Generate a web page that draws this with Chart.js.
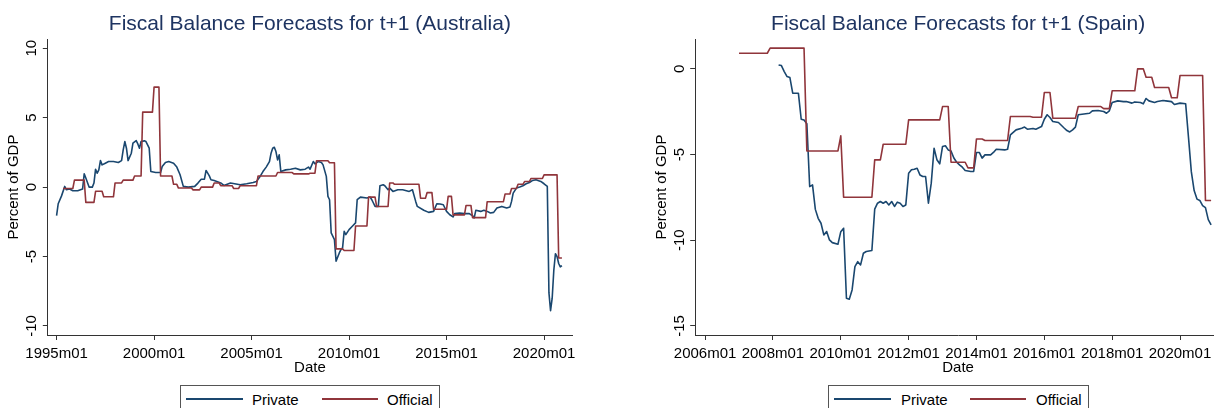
<!DOCTYPE html>
<html>
<head>
<meta charset="utf-8">
<script src="https://cdn.jsdelivr.net/npm/chart.js@4.4.1/dist/chart.umd.min.js"></script>
<style>
html, body { margin:0; padding:0; background:#fff; width:1214px; height:408px; overflow:hidden; position:relative; font-family:"Liberation Sans", Arial, sans-serif; }
canvas { position:absolute; top:0; }
#c1 { left:0; }
#c2 { left:600px; }
.legend { position:absolute; top:385px; height:30px; border:1px solid #555; box-sizing:border-box; background:#fff; }
.legend .ln { position:absolute; top:12px; height:0; border-top:2px solid; }
.legend .tx { position:absolute; top:5px; font-size:15px; line-height:18px; color:#000; white-space:nowrap; }
</style>
</head>
<body>
<canvas id="c1" width="600" height="408"></canvas>
<canvas id="c2" width="640" height="408"></canvas>

<div class="legend" style="left:180px;width:260px">
  <div class="ln" style="left:5px;width:57px;border-color:#1a476f"></div><div class="tx" style="left:71px">Private</div>
  <div class="ln" style="left:141px;width:56px;border-color:#90353b"></div><div class="tx" style="left:206px">Official</div>
</div>
<div class="legend" style="left:828px;width:261px">
  <div class="ln" style="left:5px;width:57px;border-color:#1a476f"></div><div class="tx" style="left:72px">Private</div>
  <div class="ln" style="left:141px;width:56px;border-color:#90353b"></div><div class="tx" style="left:207px">Official</div>
</div>

<script>
// ---- data ----
var ausXTicks = ['1995m01','2000m01','2005m01','2010m01','2015m01','2020m01'];
var espXTicks = ['2006m01','2008m01','2010m01','2012m01','2014m01','2016m01','2018m01','2020m01'];
var ausYTicks = [-10, -5, 0, 5, 10];
var espYTicks = [-15, -10, -5, 0];

// Australia - private forecasts
var ausPrivDates = ['1995m01','1995m02','1995m04','1995m06','1995m07','1995m09','1995m11','1996m02','1996m05','1996m06',
  '1996m07','1996m09','1996m11','1996m12','1997m01','1997m02','1997m03','1997m04','1997m05','1997m07',
  '1997m09','1997m12','1998m03','1998m05','1998m06','1998m07','1998m08','1998m09','1998m11','1998m12',
  '1999m02','1999m03','1999m04','1999m05','1999m07','1999m08','1999m10','1999m11','2000m02','2000m05',
  '2000m06','2000m08','2000m10','2001m01','2001m03','2001m05','2001m07','2001m10','2002m02','2002m04',
  '2002m06','2002m08','2002m09','2002m11','2002m12','2003m02','2003m06','2003m08','2003m12','2004m06',
  '2004m10','2005m02','2005m04','2005m06','2005m08','2005m10','2005m12','2006m01','2006m02','2006m03',
  '2006m04','2006m05','2006m06','2006m07','2006m10','2007m01','2007m04','2007m07','2007m10','2007m12',
  '2008m01','2008m03','2008m04','2008m06','2008m08','2008m09','2008m11','2008m12','2009m01','2009m02',
  '2009m04','2009m05','2009m07','2009m08','2009m09','2009m10','2009m11','2010m01','2010m03','2010m05',
  '2010m06','2010m08','2010m12','2011m02','2011m03','2011m05','2011m07','2011m08','2011m10','2011m11',
  '2012m01','2012m02','2012m04','2012m07','2012m10','2013m02','2013m04','2013m06','2013m07','2013m11',
  '2014m02','2014m05','2014m07','2014m09','2014m11','2015m01','2015m03','2015m05','2015m06','2015m09',
  '2015m12','2016m03','2016m05','2016m06','2016m07','2016m10','2016m12','2017m02','2017m04','2017m06',
  '2017m08','2017m11','2018m02','2018m04','2018m05','2018m06','2018m08','2018m10','2018m12','2019m02',
  '2019m04','2019m06','2019m08','2019m11','2020m01','2020m03','2020m04','2020m05','2020m06','2020m07',
  '2020m08','2020m09','2020m10','2020m11','2020m12'];
var ausPrivVals = [-2.06,-1.2,-0.65,0.05,-0.19,-0.14,-0.26,-0.26,-0.14,0.96,
  0.65,0,0,0.29,1.29,1.0,1.24,1.91,1.6,1.72,
  1.84,1.84,1.77,1.91,2.68,3.28,2.8,1.91,2.44,3.16,
  3.35,3.11,2.8,3.28,3.33,3.28,2.8,1.12,1.05,1.05,
  1.48,1.77,1.84,1.72,1.44,0.89,0.05,0,0.05,0.29,
  0.57,0.57,1.2,0.81,0.53,0.48,0.3,0.12,0.29,0.17,
  0.24,0.33,0.41,0.72,1.12,1.44,1.84,2.44,2.8,2.87,
  2.56,1.96,2.32,1.12,1.24,1.29,1.36,1.24,1.29,1.44,
  1.29,1.84,1.67,1.84,1.77,1.6,0.77,-0.67,-0.91,-3.3,
  -3.78,-5.33,-4.74,-4.5,-4.38,-3.18,-3.42,-3.06,-2.82,-2.58,
  -0.91,-0.72,-0.79,-0.72,-0.91,-1.39,-1.39,0.1,0.17,0.1,
  -0.19,-0.07,-0.31,-0.19,-0.19,-0.31,-0.19,-1.03,-1.39,-1.67,
  -1.82,-1.75,-1.2,-1.22,-1.27,-1.75,-1.99,-2.15,-1.91,-1.87,
  -1.91,-1.91,-2.06,-2.22,-1.67,-1.75,-1.67,-1.75,-1.87,-1.82,
  -1.51,-1.39,-1.51,-1.44,-1.03,-0.43,-0.07,0,0.1,0.24,
  0.33,0.48,0.53,0.41,0.24,0.05,-7.6,-8.9,-8.0,-6.0,
  -4.8,-5.0,-5.5,-5.74,-5.65];

// Australia - official forecasts
var ausOffDates = ['1995m05','1995m11','1995m12','1996m06','1996m07','1996m12','1997m01','1997m05','1997m06','1997m12',
  '1998m01','1998m05','1998m06','1998m12','1999m01','1999m05','1999m06','1999m12','2000m01','2000m04',
  '2000m05','2000m12','2001m01','2001m03','2001m04','2001m12','2002m01','2002m05','2002m06','2003m01',
  '2003m02','2003m05','2003m06','2004m01','2004m02','2004m05','2004m06','2005m04','2005m05','2006m04',
  '2006m05','2007m02','2007m03','2007m12','2008m01','2008m04','2008m05','2008m12','2009m01','2009m04',
  '2009m05','2009m09','2009m10','2010m04','2010m05','2010m12','2011m01','2011m05','2011m06','2012m01',
  '2012m02','2012m04','2012m05','2013m08','2013m09','2013m12','2014m01','2014m04','2014m05','2015m01',
  '2015m02','2015m04','2015m05','2015m12','2016m01','2016m04','2016m05','2017m01','2017m02','2017m12',
  '2018m01','2018m04','2018m05','2018m08','2018m09','2018m12','2019m01','2019m04','2019m05','2019m12',
  '2020m01','2020m09','2020m10','2020m12'];
var ausOffVals = [-0.1,-0.1,0.5,0.5,-1.1,-1.1,-0.3,-0.3,-0.7,-0.7,
  0.3,0.3,0.5,0.5,0.8,0.8,5.4,5.4,7.2,7.2,
  0.8,0.8,0.2,0.2,-0.07,-0.07,-0.2,-0.2,0,0,
  0.3,0.3,0.1,0.1,-0.1,-0.1,0.1,0.1,0.8,0.8,
  1.05,1.05,0.95,0.95,1.0,1.0,1.9,1.9,1.75,1.75,
  -4.45,-4.45,-4.57,-4.57,-2.8,-2.8,-0.72,-0.72,-1.4,-1.4,
  0.3,0.3,0.2,0.2,-0.8,-0.8,-0.4,-0.4,-1.6,-1.6,
  -0.67,-0.67,-2.0,-2.0,-1.32,-1.32,-2.2,-2.2,-1.05,-1.05,
  -0.5,-0.5,-0.1,-0.1,0.2,0.2,0.4,0.4,0.62,0.62,
  0.88,0.88,-5.1,-5.1];

// Spain - private forecasts
var espPrivDates = ['2008m03','2008m04','2008m05','2008m06','2008m07','2008m08','2008m10','2008m11','2008m12','2009m01',
  '2009m02','2009m03','2009m04','2009m05','2009m06','2009m07','2009m08','2009m09','2009m10','2009m12',
  '2010m01','2010m02','2010m03','2010m04','2010m05','2010m06','2010m07','2010m08','2010m09','2010m10',
  '2010m12','2011m01','2011m02','2011m03','2011m04','2011m05','2011m06','2011m07','2011m08','2011m09',
  '2011m10','2011m11','2011m12','2012m01','2012m02','2012m03','2012m04','2012m05','2012m06','2012m07',
  '2012m08','2012m09','2012m10','2012m11','2012m12','2013m01','2013m02','2013m03','2013m04','2013m05',
  '2013m06','2013m07','2013m08','2013m09','2013m11','2013m12','2014m01','2014m02','2014m03','2014m04',
  '2014m06','2014m07','2014m08','2014m11','2014m12','2015m01','2015m03','2015m05','2015m06','2015m07',
  '2015m09','2015m10','2015m12','2016m01','2016m02','2016m03','2016m04','2016m06','2016m08','2016m09',
  '2016m10','2016m11','2016m12','2017m01','2017m03','2017m05','2017m06','2017m08','2017m10','2017m11',
  '2017m12','2018m01','2018m03','2018m05','2018m06','2018m08','2018m09','2018m11','2018m12','2019m01',
  '2019m02','2019m04','2019m05','2019m07','2019m08','2019m10','2019m11','2020m01','2020m03','2020m04',
  '2020m05','2020m06','2020m07','2020m08','2020m09','2020m10','2020m11','2020m12'];
var espPrivVals = [0.23,0.19,-0.16,-0.45,-0.51,-1.42,-1.42,-2.94,-2.98,-3.2,
  -6.87,-6.77,-8.2,-8.72,-9.01,-9.69,-9.49,-9.98,-10.14,-10.23,
  -9.5,-9.3,-13.39,-13.44,-12.9,-11.54,-11.25,-11.44,-10.76,-10.66,
  -10.6,-8.19,-7.84,-7.74,-7.84,-7.74,-7.94,-7.74,-8.03,-7.78,
  -7.84,-8.03,-7.94,-6.09,-5.89,-5.86,-5.8,-6.19,-6.28,-6.28,
  -7.84,-6.67,-4.63,-5.3,-5.54,-4.53,-4.49,-4.73,-4.8,-5.2,
  -5.45,-5.6,-5.74,-5.93,-5.99,-5.99,-4.88,-4.88,-5.21,-5.02,
  -5.02,-4.88,-4.69,-4.73,-4.69,-3.85,-3.56,-3.46,-3.4,-3.52,
  -3.48,-3.52,-3.37,-2.94,-2.68,-2.84,-3.07,-3.13,-3.45,-3.6,
  -3.68,-3.56,-3.4,-2.68,-2.63,-2.59,-2.45,-2.43,-2.49,-2.59,
  -2.45,-1.96,-1.87,-1.91,-1.91,-2.0,-1.93,-1.96,-2.04,-1.73,
  -1.87,-1.96,-1.91,-1.85,-1.87,-1.91,-2.08,-2.0,-2.04,-4.0,
  -6.0,-7.1,-7.6,-7.68,-7.98,-8.1,-8.8,-9.1];

// Spain - official forecasts
var espOffDates = ['2007m01','2007m11','2007m12','2008m12','2009m01','2009m12','2010m01','2010m02','2010m12','2011m01',
  '2011m03','2011m04','2011m12','2012m01','2012m12','2013m01','2013m03','2013m04','2013m09','2013m10',
  '2013m12','2014m01','2014m03','2014m04','2014m12','2015m01','2015m08','2015m09','2015m12','2016m01',
  '2016m03','2016m04','2016m12','2017m01','2017m09','2017m10','2017m12','2018m01','2018m09','2018m10',
  '2018m12','2019m01','2019m03','2019m04','2019m09','2019m10','2019m12','2020m01','2020m09','2020m10',
  '2020m12'];
var espOffVals = [0.91,0.91,1.21,1.21,-4.79,-4.79,-3.91,-7.49,-7.49,-5.31,
  -5.31,-4.4,-4.4,-2.98,-2.98,-2.2,-2.2,-5.45,-5.45,-5.78,
  -5.78,-4.09,-4.09,-4.18,-4.18,-2.78,-2.78,-2.82,-2.82,-1.38,
  -1.38,-2.88,-2.88,-2.2,-2.2,-2.32,-2.32,-1.28,-1.28,0,
  0,-0.49,-0.49,-1.09,-1.09,-1.69,-1.69,-0.39,-0.39,-7.68,
  -7.68];

// ---- helpers ----
var NAVY = '#1a476f';
var MAROON = '#90353b';
var AXIS = '#333333';
var TITLE = '#1e3461';

Chart.defaults.font.family = '"Liberation Sans", Arial, sans-serif';

function toMonth(s){
  var p = s.split('m');
  return (parseInt(p[0]) - 1960) * 12 + (parseInt(p[1]) - 1);
}
function fmtMonth(v){
  var y = 1960 + Math.floor(v / 12);
  var m = Math.round(v - (y - 1960) * 12) + 1;
  return y + 'm' + (m < 10 ? '0' + m : m);
}
function pts(dates, vals){
  var out = [];
  for (var i = 0; i < dates.length; i++) out.push({x: toMonth(dates[i]), y: vals[i]});
  return out;
}

// y tick labels are drawn vertically, like the original
var verticalYTicks = {
  id: 'verticalYTicks',
  afterDraw: function(chart){
    var ctx = chart.ctx, sc = chart.scales.y;
    ctx.save();
    ctx.font = '15px "Liberation Sans", Arial, sans-serif';
    ctx.fillStyle = '#000';
    ctx.textAlign = 'center';
    ctx.textBaseline = 'alphabetic';
    sc.ticks.forEach(function(t){
      var py = sc.getPixelForValue(t.value);
      ctx.save();
      ctx.translate(chart.chartArea.left - 11.6, py);
      ctx.rotate(-Math.PI / 2);
      ctx.fillText(String(t.value), 0, 0);
      ctx.restore();
    });
    ctx.restore();
  }
};

function makeChart(id, title, xMin, xMax, yMin, yMax, xTicks, yTicks, priv, off, padLeft, padRight){
  return new Chart(document.getElementById(id), {
    type: 'line',
    data: {
      datasets: [
        {label: 'Private', data: priv, borderColor: NAVY, borderWidth: 1.6, pointRadius: 0, tension: 0, borderJoinStyle: 'round', order: 2},
        {label: 'Official', data: off, borderColor: MAROON, borderWidth: 1.6, pointRadius: 0, tension: 0, borderJoinStyle: 'round', order: 1}
      ]
    },
    options: {
      responsive: false,
      animation: false,
      devicePixelRatio: 1,
      layout: {padding: {left: padLeft, right: padRight, top: 0, bottom: 0}},
      plugins: {
        legend: {display: false},
        tooltip: {enabled: false},
        title: {display: true, text: title, fullSize: false, color: TITLE,
                font: {size: 21, weight: 'normal'}, padding: {top: 12, bottom: 2}}
      },
      scales: {
        x: {
          type: 'linear', min: xMin, max: xMax,
          afterBuildTicks: function(s){ s.ticks = xTicks.map(function(t){ return {value: toMonth(t)}; }); },
          afterFit: function(s){ s.height = 73; },
          ticks: {callback: function(v){ return fmtMonth(v); }, maxRotation: 0, minRotation: 0, autoSkip: false,
                  padding: 5, color: '#000', font: {size: 15}},
          grid: {drawOnChartArea: false, drawTicks: true, tickLength: 5, color: AXIS},
          border: {display: true, color: AXIS, width: 1},
          title: {display: true, text: 'Date', color: '#000', font: {size: 15}, padding: {top: 0, bottom: 31}}
        },
        y: {
          min: yMin, max: yMax,
          afterBuildTicks: function(s){ s.ticks = yTicks.map(function(v){ return {value: v}; }); },
          afterFit: function(s){ s.width = 47.8; },
          ticks: {display: false},
          grid: {drawOnChartArea: false, drawTicks: true, tickLength: 5, color: AXIS},
          border: {display: true, color: AXIS, width: 1},
          title: {display: true, text: 'Percent of GDP', color: '#000', font: {size: 15}, padding: {top: 5, bottom: 0}}
        }
      }
    },
    plugins: [verticalYTicks]
  });
}

makeChart('c1', 'Fiscal Balance Forecasts for t+1 (Australia)', 414.6, 737.2, -10.65, 10.65,
  ausXTicks, ausYTicks, pts(ausPrivDates, ausPrivVals), pts(ausOffDates, ausOffVals), 0, 28);
makeChart('c2', 'Fiscal Balance Forecasts for t+1 (Spain)', 548.5, 734.5, -15.53, 1.73,
  espXTicks, espYTicks, pts(espPrivDates, espPrivVals), pts(espOffDates, espOffVals), 47.4, 19);
</script>
</body>
</html>
